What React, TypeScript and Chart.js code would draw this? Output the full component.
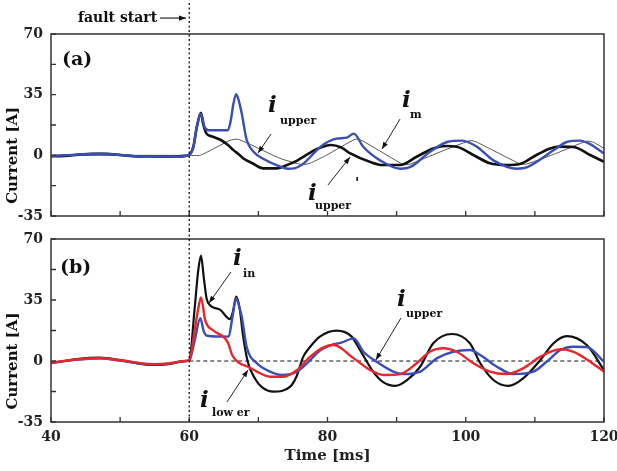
import React, { useEffect, useRef } from "react";
import { Chart, registerables } from "chart.js";
Chart.register(...registerables);

const SERIF = '"DejaVu Serif", "Liberation Serif", serif';

// ---------- panel (a) ----------
const topUpperPrimeT = [40, 42, 44, 46, 48, 50, 52, 54, 56, 58, 59.5, 60, 60.6, 61.1, 61.7, 62, 62.5, 63.2, 64.5, 65.6, 66.4, 67.2, 67.8, 69.2, 70.7, 72.7, 74.2, 75.6, 78.4, 80.5, 82, 83.3, 86.1, 88, 90.5, 92.9, 95.3, 97.2, 98.7, 101.1, 103.5, 105.9, 107.8, 109.8, 112.2, 113.6, 115.6, 118, 120];
const topUpperPrimeI = [-0.5, -0.3, 0.4, 0.9, 0.9, 0.2, -0.5, -0.8, -0.8, -0.7, -0.3, 0.3, 5, 16.5, 24.5, 18.4, 12.5, 11, 9, 6, 3, 0.5, -1.7, -4.7, -7.5, -7.5, -5.5, -3, 3.5, 6, 4.5, 1.1, -3.7, -5.6, -5.6, -0.8, 4, 5.4, 5, 0.2, -4.6, -5.6, -5, -0.8, 4, 5, 4.8, 0.2, -3.7];

const topUpperT = [40, 44, 47, 50, 54, 58, 60, 60.6, 61.1, 61.7, 62.2, 62.8, 65.6, 66, 66.4, 66.8, 67.2, 67.6, 68.3, 69.3, 70.7, 72.7, 74.3, 75.2, 76.5, 79, 81.3, 82.8, 83.8, 85.2, 87.6, 90.5, 92, 94.8, 97.3, 99.5, 101.6, 104, 107.4, 108.8, 112.7, 114.6, 116.5, 118, 120];
const topUpperI = [-0.4, 0.4, 0.9, 0.2, -0.8, -0.7, 0.3, 5, 16.5, 24, 16.5, 14.5, 14.5, 20, 30, 35.3, 31, 24, 9, 2, -2, -5.8, -7.7, -7.5, -4.8, 5, 9.6, 10.2, 12.5, 4.8, -2.9, -7.7, -6.7, 1.9, 7.7, 8.5, 5, -2.9, -7.7, -7, 2.9, 7.7, 8.5, 6.5, 1];

const topMT = [40, 60, 61.6, 65.9, 67, 68.5, 73.1, 76.3, 77.5, 79.9, 84, 85, 91, 92, 96, 100.6, 101.5, 108, 109, 113, 117.5, 118.5, 120];
const topMI = [0, 0, 0, 8.7, 9.3, 6.9, -1.7, -5.4, -4.5, 0.2, 9.3, 8.5, -5.4, -5, 1.5, 8.5, 7.8, -5.2, -4.8, 1, 8.2, 7.5, 4];

// ---------- panel (b) ----------
const botInT = [40, 42, 44, 47, 50, 52, 54.8, 57, 59.5, 60, 60.8, 61.3, 61.7, 62.1, 62.5, 63, 64.5, 65.9, 66.3, 66.8, 67.3, 67.8, 68.5, 69.5, 70.5, 72.2, 74.6, 75.5, 76.5, 77.5, 78.9, 81.3, 83.5, 84.7, 86.6, 88, 89.8, 91.5, 93.4, 95.3, 98, 100.6, 102.1, 104, 106.2, 108.3, 110.8, 112.7, 114.6, 117.5, 120];
const botInI = [-1.3, 0, 1.2, 1.9, 0.5, -1, -2.3, -1.8, 0, 0.5, 31, 52, 60.5, 48, 36, 32, 29.3, 24, 28, 37, 30, 14, -1, -10, -15, -17.6, -14.7, -9, 2.5, 8.2, 14, 17.4, 14, 6.3, -6.1, -12, -14.3, -11, -3.3, 10.2, 15.5, 10.2, -1.3, -10.9, -14.3, -10, 0.6, 10.2, 14.3, 9.2, -5.2];

const botUpT = [40, 44, 47, 50, 54.8, 57, 59.5, 60, 60.8, 61.6, 62.1, 62.6, 65.7, 66.2, 66.8, 67.3, 67.6, 68.3, 69.8, 71.7, 73.4, 75.6, 77, 78.9, 80.4, 82, 83.8, 85.2, 87.1, 89.5, 91, 93.4, 95.8, 98.2, 100.6, 102.1, 104.5, 106.9, 109.8, 111.7, 113.7, 115.6, 117.5, 120];
const botUpI = [-1, 0.8, 1.5, 0.3, -2, -1.5, 0, 0.3, 12, 24.5, 17, 14.5, 14, 24, 36, 30, 25.4, 8.2, -1.3, -6.1, -8, -6.1, -1.5, 6, 9, 10.5, 13, 5.3, -0.4, -6.1, -7.5, -6.1, 1.5, 5.3, 6.3, 3.4, -3.3, -7.5, -6.1, -0.4, 6.3, 8.2, 8, -0.4];

const botLowT = [40, 44, 47, 50, 54.8, 57, 59.5, 60, 60.8, 61.3, 61.7, 62.3, 63.5, 64.9, 65.6, 66.2, 67.1, 68.5, 69.8, 71.7, 73.6, 75.6, 77.5, 79.5, 80.9, 83.8, 86.2, 88.1, 90.5, 92.9, 94.8, 96.8, 98.7, 101.1, 103.5, 105.9, 108.3, 110.8, 113.7, 115.6, 118, 120];
const botLowI = [-1, 1, 1.6, 0.4, -1.8, -1.4, 0, 0.3, 18, 30, 36.5, 23.5, 17.5, 14, 10.5, 3.5, -0.8, -3.3, -6.1, -9, -9, -5.2, 2.5, 8, 9.2, 1.5, -5.2, -8, -7.5, -1.3, 5.3, 7.3, 5.3, -1.3, -6.1, -7.5, -4.2, 2.5, 6.7, 5.3, -0.4, -6.1];

const xTickValues = [40, 50, 60, 70, 80, 90, 100, 110, 120];
const yTickValues = [-35, -17.5, 0, 17.5, 35, 52.5, 70];
const faultTime = 60;

type Ann = {
  sub: string;
  i: [number, number];
  s: [number, number];
  from: [number, number];
  to: [number, number];
  prime?: [number, number];
};

const annTop: Ann[] = [
  { sub: "upper", i: [71.4, 25.0], s: [73.13, 18.06], from: [71.83, 12.3], to: [69.95, 1.33] },
  { sub: "m", i: [90.78, 27.9], s: [91.94, 21.5], from: [90.49, 20.9], to: [87.88, 3.6] },
  { sub: "upper", i: [77.18, -25.8], s: [78.19, -31.0], from: [80.07, -17.1], to: [83.26, -1.0], prime: [83.98, -18.9] },
];
const annBot: Ann[] = [
  { sub: "in", i: [66.33, 55.1], s: [67.78, 48.2], from: [66.04, 51.1], to: [62.86, 33.3] },
  { sub: "low er", i: [61.56, -26.4], s: [63.29, -31.6], from: [65.46, -23.5], to: [68.5, -5.2] },
  { sub: "upper", i: [90.05, 31.6], s: [91.36, 25.2], from: [90.63, 24.7], to: [87.0, 0.6] },
];

const pts = (t: number[], v: number[]) => t.map((x, k) => ({ x, y: v[k] }));

function arrow(ctx: CanvasRenderingContext2D, x1: number, y1: number, x2: number, y2: number) {
  ctx.beginPath();
  ctx.moveTo(x1, y1);
  ctx.lineTo(x2, y2);
  ctx.stroke();
  const a = Math.atan2(y2 - y1, x2 - x1);
  const L = 7, W = 2.6;
  const c = Math.cos(a), s = Math.sin(a);
  ctx.beginPath();
  ctx.moveTo(x2, y2);
  ctx.lineTo(x2 - L * c + W * s, y2 - L * s - W * c);
  ctx.lineTo(x2 - L * c - W * s, y2 - L * s + W * c);
  ctx.closePath();
  ctx.fill();
}

function decor(panel: "a" | "b", anns: Ann[]) {
  return {
    id: "decor" + panel,
    beforeDatasetsDraw(chart: any) {
      if (panel !== "b") return;
      const { ctx, scales } = chart;
      const x1 = scales.x.getPixelForValue(faultTime);
      const x2 = scales.x.getPixelForValue(120);
      const y0 = scales.y.getPixelForValue(0);
      ctx.save();
      ctx.strokeStyle = "#111";
      ctx.lineWidth = 1;
      ctx.setLineDash([4, 3]);
      ctx.beginPath();
      ctx.moveTo(x1, y0);
      ctx.lineTo(x2, y0);
      ctx.stroke();
      ctx.restore();
    },
    afterDraw(chart: any) {
      const { ctx, scales, chartArea } = chart;
      const X = (v: number) => scales.x.getPixelForValue(v);
      const Y = (v: number) => scales.y.getPixelForValue(v);
      ctx.save();
      // frame
      ctx.strokeStyle = "#333";
      ctx.lineWidth = 1.5;
      ctx.setLineDash([]);
      ctx.strokeRect(chartArea.left, chartArea.top, chartArea.right - chartArea.left, chartArea.bottom - chartArea.top);
      // inward ticks
      ctx.lineWidth = 1.3;
      ctx.beginPath();
      for (const t of xTickValues) {
        const x = X(t);
        ctx.moveTo(x, chartArea.bottom);
        ctx.lineTo(x, chartArea.bottom - 5);
      }
      for (const v of yTickValues) {
        const y = Y(v);
        ctx.moveTo(chartArea.left, y);
        ctx.lineTo(chartArea.left + 5, y);
      }
      ctx.stroke();
      // fault dotted line
      const xf = X(faultTime);
      ctx.strokeStyle = "#111";
      ctx.lineWidth = 1.3;
      ctx.setLineDash([2, 2.5]);
      ctx.beginPath();
      if (panel === "a") {
        ctx.moveTo(xf, 3);
        ctx.lineTo(xf, chart.height);
      } else {
        ctx.moveTo(xf, 0);
        ctx.lineTo(xf, chartArea.bottom);
      }
      ctx.stroke();
      ctx.setLineDash([]);
      ctx.fillStyle = "#111";
      ctx.strokeStyle = "#222";
      // y title
      ctx.save();
      ctx.translate(13, Y(0));
      ctx.rotate(-Math.PI / 2);
      ctx.textAlign = "center";
      ctx.textBaseline = "middle";
      ctx.font = `bold 15px ${SERIF}`;
      ctx.fillText("Current [A]", 0, 0);
      ctx.restore();
      // panel label
      ctx.textAlign = "left";
      ctx.textBaseline = "alphabetic";
      ctx.font = `bold 19px ${SERIF}`;
      if (panel === "a") ctx.fillText("(a)", X(41.6), Y(52.1));
      else ctx.fillText("(b)", X(41.3), Y(50.5));
      if (panel === "a") {
        ctx.font = `bold 14px ${SERIF}`;
        ctx.fillText("fault start", X(43.9), Y(76.9));
        ctx.lineWidth = 1.2;
        arrow(ctx, X(55.77), Y(79.2), X(59.53), Y(79.2));
      }
      // annotations
      ctx.lineWidth = 1;
      for (const a of anns) {
        ctx.font = `italic bold 23px ${SERIF}`;
        ctx.fillText("i", X(a.i[0]), Y(a.i[1]));
        ctx.font = `bold 11px ${SERIF}`;
        ctx.fillText(a.sub, X(a.s[0]), Y(a.s[1]));
        if (a.prime) {
          ctx.font = `bold 14px ${SERIF}`;
          ctx.fillText("'", X(a.prime[0]), Y(a.prime[1]));
        }
        arrow(ctx, X(a.from[0]), Y(a.from[1]), X(a.to[0]), Y(a.to[1]));
      }
      ctx.restore();
    },
  };
}

function makeOptions(showX: boolean, padTop: number, padBottom: number) {
  const tickFont = { family: SERIF, size: 14, weight: "bold" as const };
  return {
    responsive: false,
    animation: false as const,
    layout: { padding: { top: padTop, right: 13, bottom: padBottom, left: 0 } },
    plugins: { legend: { display: false }, tooltip: { enabled: false } },
    elements: { point: { radius: 0 }, line: { cubicInterpolationMode: "monotone" as const } },
    scales: {
      x: {
        type: "linear" as const,
        min: 40,
        max: 120,
        display: showX,
        grid: { display: false, drawTicks: false },
        border: { display: false },
        ticks: { stepSize: 20, padding: 7, font: tickFont, color: "#222" },
        title: {
          display: showX,
          text: "Time [ms]",
          color: "#222",
          font: { family: SERIF, size: 15, weight: "bold" as const },
          padding: { top: 0, bottom: 6 },
        },
        afterFit: (s: any) => {
          if (showX) s.height = 49;
          s.paddingLeft = 0;
          s.paddingRight = 0;
        },
      },
      y: {
        min: -35,
        max: 70,
        grid: { display: false, drawTicks: false },
        border: { display: false },
        ticks: { stepSize: 35, padding: 8, font: tickFont, color: "#222" },
        afterFit: (s: any) => {
          s.width = 51;
          s.paddingTop = 0;
          s.paddingBottom = 0;
        },
      },
    },
  };
}

const BLUE = "#3a4fb3";
const RED = "#e8262b";
const BLACK = "#111111";

export default function App() {
  const topRef = useRef<HTMLCanvasElement>(null);
  const botRef = useRef<HTMLCanvasElement>(null);

  useEffect(() => {
    document.body.style.margin = "0";
    const top = new Chart(topRef.current as HTMLCanvasElement, {
      type: "line",
      data: {
        datasets: [
          { data: pts(topUpperT, topUpperI), borderColor: BLUE, borderWidth: 2.4, fill: false },
          { data: pts(topUpperPrimeT, topUpperPrimeI), borderColor: BLACK, borderWidth: 2.6, fill: false },
          { data: pts(topMT, topMI), borderColor: "#555", borderWidth: 1, fill: false, cubicInterpolationMode: "default", tension: 0.15 },
        ],
      },
      options: makeOptions(false, 34, 14) as any,
      plugins: [decor("a", annTop)],
    });
    const bot = new Chart(botRef.current as HTMLCanvasElement, {
      type: "line",
      data: {
        datasets: [
          { data: pts(botLowT, botLowI), borderColor: RED, borderWidth: 2.4, fill: false },
          { data: pts(botUpT, botUpI), borderColor: BLUE, borderWidth: 2.4, fill: false },
          { data: pts(botInT, botInI), borderColor: BLACK, borderWidth: 2.2, fill: false },
        ],
      },
      options: makeOptions(true, 9, 0) as any,
      plugins: [decor("b", annBot)],
    });
    return () => {
      top.destroy();
      bot.destroy();
    };
  }, []);

  return (
    <div style={{ position: "relative", width: 617, height: 471, overflow: "hidden", background: "#fff" }}>
      <canvas ref={topRef} width={617} height={230} style={{ position: "absolute", left: 0, top: 0 }} />
      <canvas ref={botRef} width={617} height={241} style={{ position: "absolute", left: 0, top: 230 }} />
    </div>
  );
}
